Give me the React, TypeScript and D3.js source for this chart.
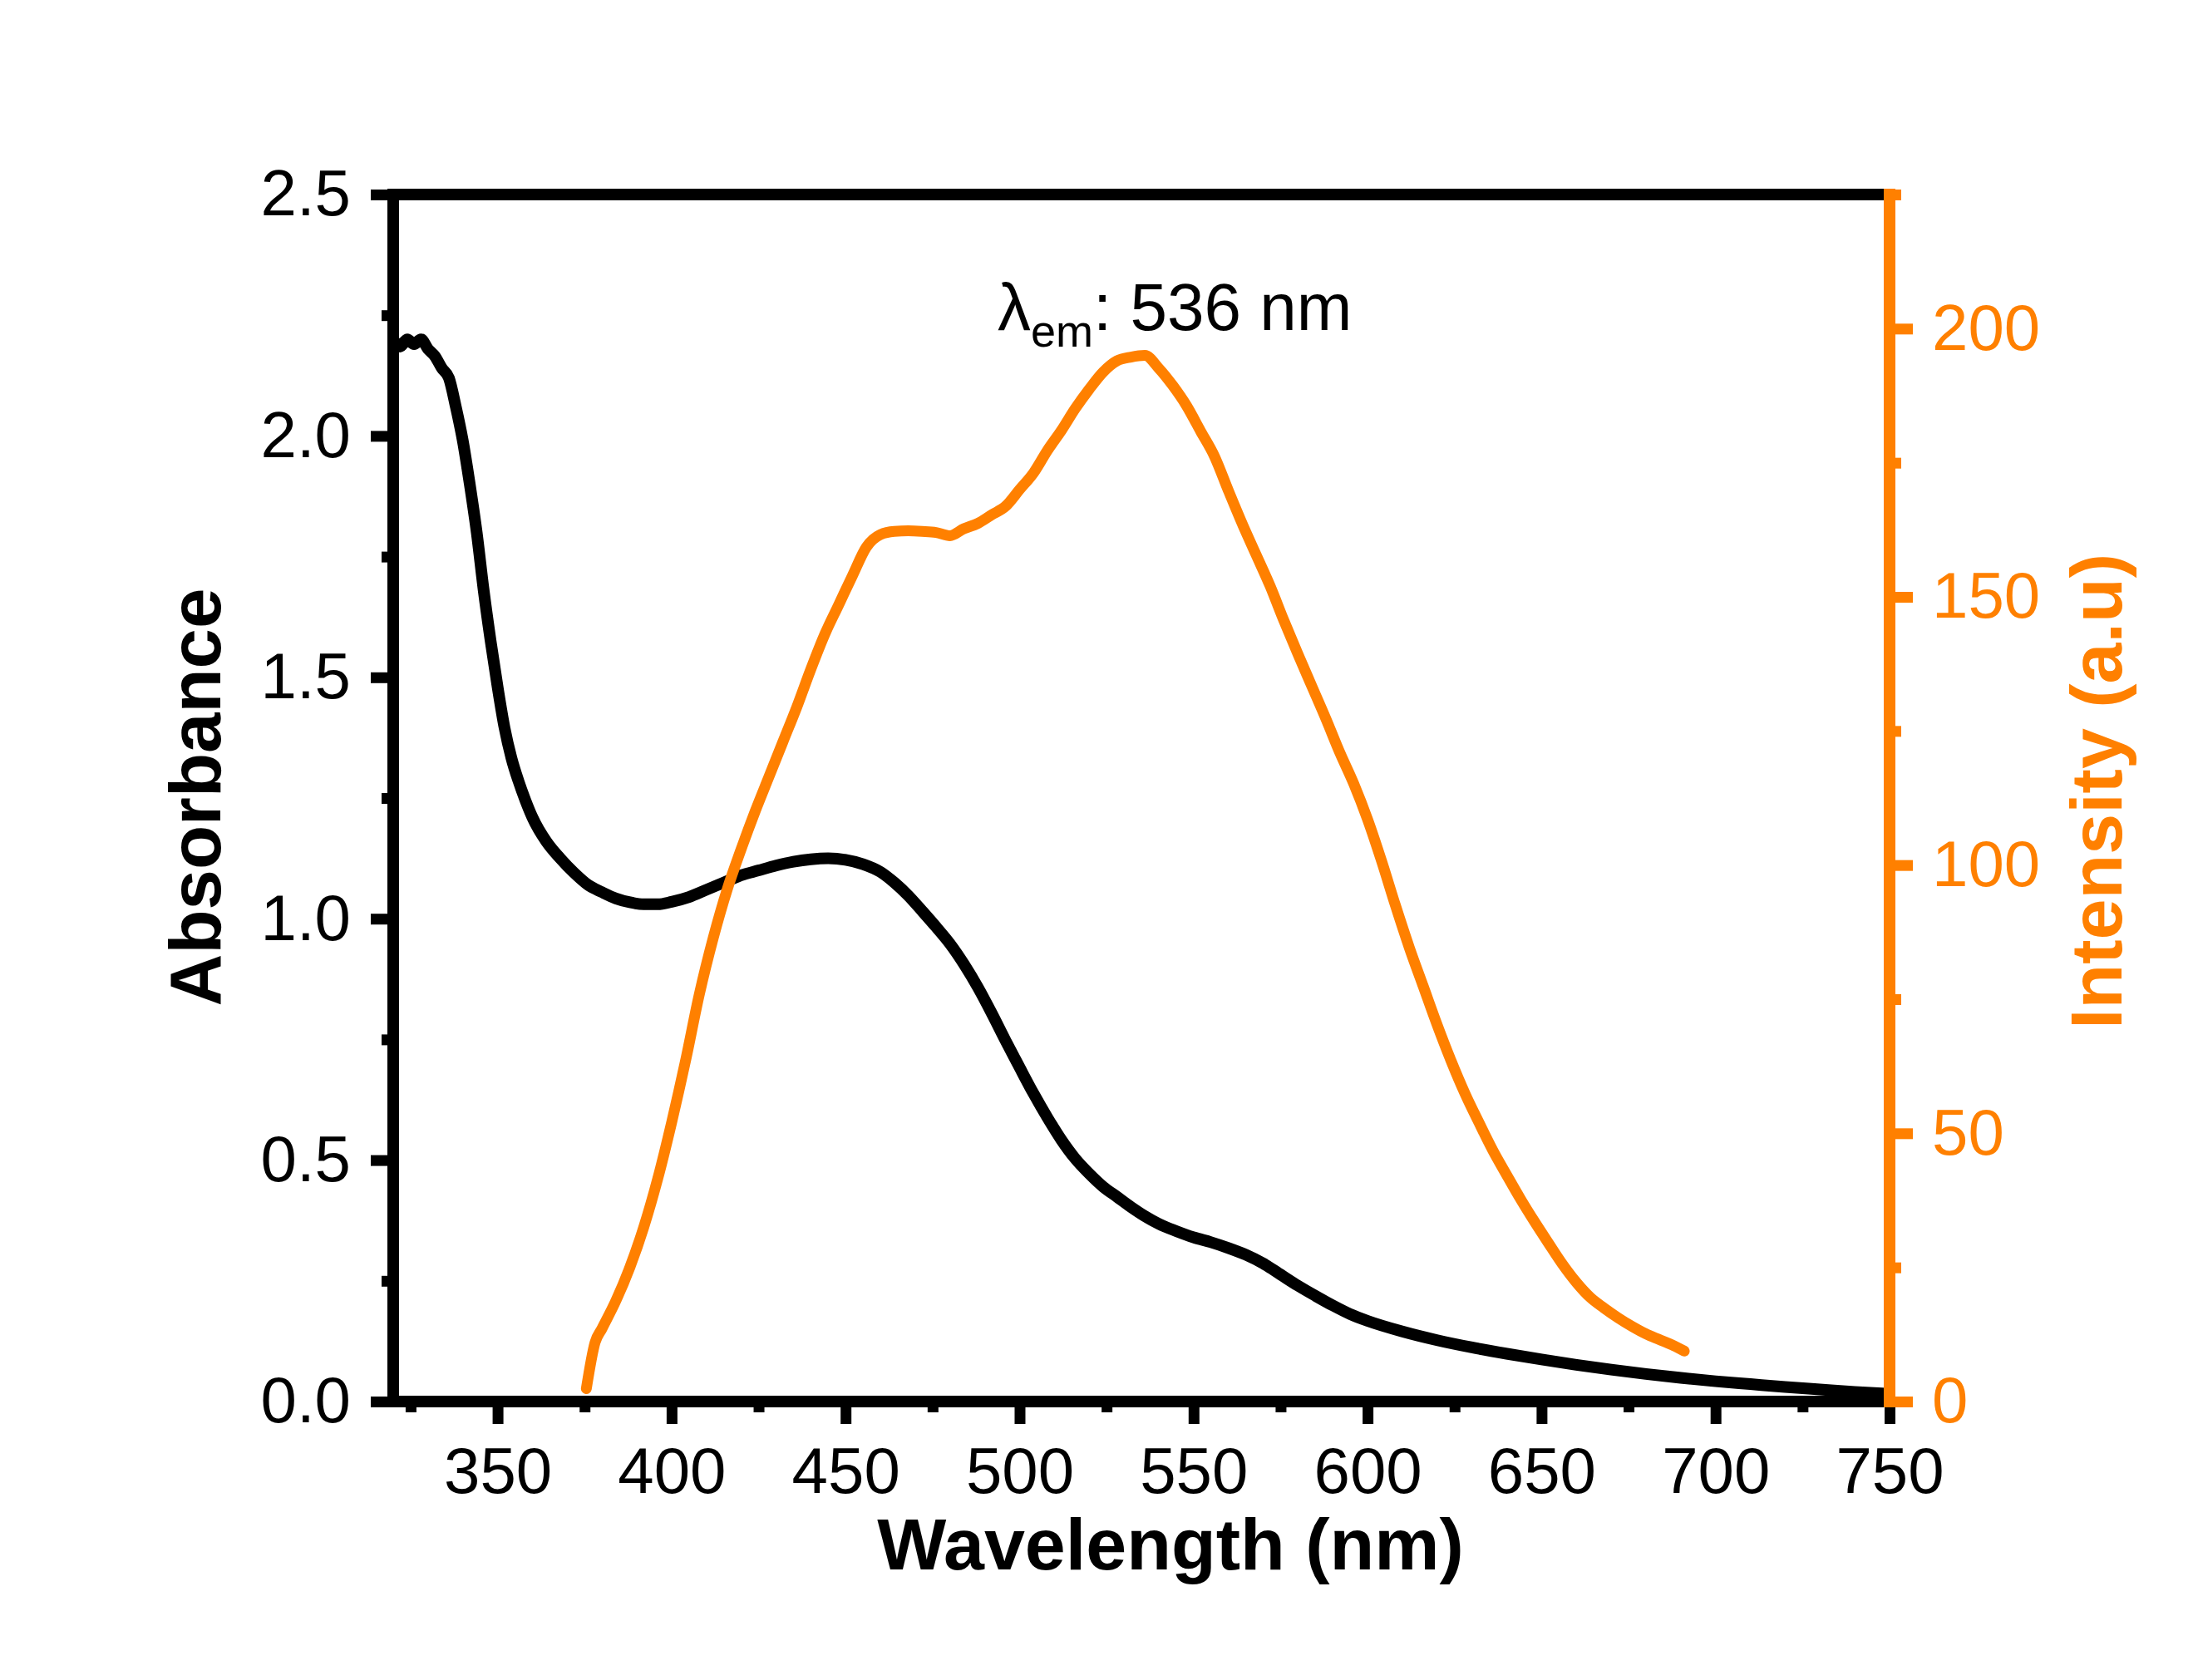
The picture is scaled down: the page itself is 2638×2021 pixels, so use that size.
import React, { useEffect, useRef } from 'react';
import * as d3 from 'd3';

// UV-vis absorbance (left axis)
const absWavelength = [
  320, 322, 324, 326, 328, 330, 332, 334, 336, 338, 340, 342, 344, 346, 348, 350,
  352, 354, 356, 358, 360, 364, 368, 372, 376, 380, 384, 388, 392, 396, 400, 405,
  410, 415, 420, 425, 430, 435, 440, 445, 450, 455, 460, 464, 468, 472, 476, 480,
  484, 488, 492, 496, 500, 504, 508, 512, 516, 520, 524, 528, 532, 536, 540, 545,
  550, 555, 560, 565, 570, 575, 580, 585, 590, 595, 600, 610, 620, 630, 640, 650,
  660, 670, 680, 690, 700, 710, 720, 730, 740, 750,
];
const absorbance = [
  2.2, 2.185, 2.2, 2.19, 2.2, 2.18, 2.165, 2.14, 2.12, 2.06, 1.99, 1.9, 1.8, 1.68, 1.575, 1.48,
  1.395, 1.332, 1.285, 1.245, 1.21, 1.16, 1.125, 1.095, 1.07, 1.055, 1.042, 1.034, 1.03, 1.03, 1.035, 1.045,
  1.06, 1.075, 1.09, 1.1, 1.11, 1.118, 1.123, 1.125, 1.122, 1.113, 1.097, 1.075, 1.048, 1.016, 0.983, 0.948,
  0.906, 0.858, 0.804, 0.747, 0.692, 0.638, 0.588, 0.542, 0.503, 0.472, 0.445, 0.424, 0.403, 0.384, 0.368, 0.353,
  0.34, 0.33, 0.318, 0.304, 0.286, 0.263, 0.24, 0.219, 0.199, 0.181, 0.167, 0.145, 0.127, 0.112, 0.099, 0.087,
  0.076, 0.066, 0.057, 0.049, 0.042, 0.036, 0.03, 0.025, 0.02, 0.016,
];

// PL emission (right axis)
const emWavelength = [
  375.5, 378, 380, 384, 388, 392, 396, 400, 404, 408, 412, 416, 420, 424, 428, 432,
  436, 440, 444, 448, 452, 456, 460, 464, 468, 472, 476, 480, 484, 488, 492, 496,
  500, 504, 508, 512, 516, 520, 524, 528, 532, 536, 540, 544, 548, 552, 556, 560,
  564, 568, 572, 576, 580, 584, 588, 592, 596, 600, 604, 608, 612, 616, 620, 624,
  628, 632, 636, 640, 644, 648, 652, 656, 660, 664, 668, 672, 676, 680, 684, 688, 691,
];
const emIntensity = [
  2.4, 11, 13.6, 18.8, 25, 32.5, 41.5, 52, 63.5, 76, 86.5, 95.5, 103, 110, 116.5, 123,
  129.5, 136.5, 143, 148.5, 154, 159.3, 161.6, 162.2, 162.3, 162.2, 162, 161.4, 162.7, 163.7, 165.3, 166.9,
  170, 173.1, 177.3, 181, 185.1, 188.7, 191.9, 194, 194.7, 195, 192.6, 189.4, 185.6, 180.9, 176.2, 169.8,
  163.6, 157.8, 152, 145.5, 139.3, 133.3, 127.3, 121, 115.2, 108.5, 100.8, 92.5, 84.6, 77.4, 70.2, 63.5,
  57.4, 52, 46.8, 42.2, 37.7, 33.5, 29.5, 25.6, 22.2, 19.4, 17.4, 15.6, 14, 12.6, 11.5, 10.4, 9.4,
];

const xTicks = [350, 400, 450, 500, 550, 600, 650, 700, 750];
const xMinor = [325, 375, 425, 475, 525, 575, 625, 675, 725];
const absTicks = [0, 0.5, 1, 1.5, 2, 2.5];
const absMinor = [0.25, 0.75, 1.25, 1.75, 2.25];
const intTicks = [0, 50, 100, 150, 200];
const intMinor = [25, 75, 125, 175, 225];

const ORANGE = '#ff8000';
const FONT = '"Liberation Sans", Arial, Helvetica, sans-serif';

export default function App() {
  const svgRef = useRef<SVGSVGElement>(null);

  useEffect(() => {
    const width = 2638;
    const height = 2021;
    const box = { left: 473, right: 2273, top: 234, bottom: 1686 };

    const svg = d3.select(svgRef.current);
    svg.selectAll('*').remove();
    svg.attr('width', width).attr('height', height);

    svg.append('rect').attr('width', width).attr('height', height).attr('fill', '#fff');

    const x = d3.scaleLinear().domain([320, 750]).range([box.left, box.right]);
    const yAbs = d3.scaleLinear().domain([0, 2.5]).range([box.bottom, box.top]);
    const yInt = d3.scaleLinear().domain([0, 225]).range([box.bottom, box.top]);

    const absLine = d3.line<number>()
      .x((d, i) => x(absWavelength[i]))
      .y(d => yAbs(d))
      .curve(d3.curveMonotoneX);

    const emLine = d3.line<number>()
      .x((d, i) => x(emWavelength[i]))
      .y(d => yInt(d))
      .curve(d3.curveMonotoneX);

    svg.append('path')
      .attr('d', absLine(absorbance))
      .attr('fill', 'none')
      .attr('stroke', '#000')
      .attr('stroke-width', 14)
      .attr('stroke-linejoin', 'round');

    svg.append('path')
      .attr('d', emLine(emIntensity))
      .attr('fill', 'none')
      .attr('stroke', ORANGE)
      .attr('stroke-width', 13)
      .attr('stroke-linejoin', 'round')
      .attr('stroke-linecap', 'round');

    const style = (g: any, color: string) => {
      g.select('.domain').remove();
      g.selectAll('line').attr('stroke', color).attr('stroke-width', 13);
      g.selectAll('text')
        .attr('fill', color)
        .attr('font-family', FONT)
        .attr('font-size', 78);
    };

    // bottom axis
    svg.append('g')
      .attr('transform', `translate(0,${box.bottom})`)
      .call(d3.axisBottom(x).tickValues(xMinor).tickSize(13).tickFormat(() => ''))
      .call(g => style(g, '#000'));
    svg.append('g')
      .attr('transform', `translate(0,${box.bottom})`)
      .call(d3.axisBottom(x).tickValues(xTicks).tickSize(27).tickPadding(28).tickFormat(d3.format('d')))
      .call(g => style(g, '#000'));

    // left axis
    svg.append('g')
      .attr('transform', `translate(${box.left},0)`)
      .call(d3.axisLeft(yAbs).tickValues(absMinor).tickSize(14).tickFormat(() => ''))
      .call(g => style(g, '#000'));
    svg.append('g')
      .attr('transform', `translate(${box.left},0)`)
      .call(d3.axisLeft(yAbs).tickValues(absTicks).tickSize(27).tickPadding(24).tickFormat(d3.format('.1f')))
      .call(g => style(g, '#000'));

    // frame
    const spine = (x1: number, y1: number, x2: number, y2: number, color: string) =>
      svg.append('line')
        .attr('x1', x1).attr('y1', y1).attr('x2', x2).attr('y2', y2)
        .attr('stroke', color)
        .attr('stroke-width', 14)
        .attr('stroke-linecap', 'square');
    spine(box.left, box.top, box.right, box.top, '#000');
    spine(box.left, box.bottom, box.right, box.bottom, '#000');
    spine(box.left, box.top, box.left, box.bottom, '#000');

    // right axis (emission intensity)
    svg.append('g')
      .attr('transform', `translate(${box.right},0)`)
      .call(d3.axisRight(yInt).tickValues(intMinor).tickSize(14).tickFormat(() => ''))
      .call(g => style(g, ORANGE));
    svg.append('g')
      .attr('transform', `translate(${box.right},0)`)
      .call(d3.axisRight(yInt).tickValues(intTicks).tickSize(28).tickPadding(23).tickFormat(d3.format('d')))
      .call(g => style(g, ORANGE));
    spine(box.right, box.top, box.right, box.bottom, ORANGE);

    // axis titles
    svg.append('text')
      .attr('x', 1408)
      .attr('y', 1888)
      .attr('text-anchor', 'middle')
      .attr('font-family', FONT)
      .attr('font-weight', 'bold')
      .attr('font-size', 88)
      .text('Wavelength (nm)');

    svg.append('text')
      .attr('transform', 'translate(265,959) rotate(-90)')
      .attr('text-anchor', 'middle')
      .attr('font-family', FONT)
      .attr('font-weight', 'bold')
      .attr('font-size', 87)
      .text('Absorbance');

    svg.append('text')
      .attr('transform', 'translate(2552,952) rotate(-90)')
      .attr('text-anchor', 'middle')
      .attr('font-family', FONT)
      .attr('font-weight', 'bold')
      .attr('font-size', 88)
      .attr('fill', ORANGE)
      .text('Intensity (a.u)');

    // emission maximum label
    const label = svg.append('text')
      .attr('x', 1200)
      .attr('y', 397)
      .attr('font-family', FONT)
      .attr('font-size', 80);
    label.append('tspan').text('λ');
    label.append('tspan').attr('font-size', 54).attr('dy', 20).text('em');
    label.append('tspan').attr('dy', -20).text(': 536 nm');
  }, []);

  return (
    <svg ref={svgRef} style={{ position: 'absolute', left: 0, top: 0, display: 'block' }} />
  );
}
